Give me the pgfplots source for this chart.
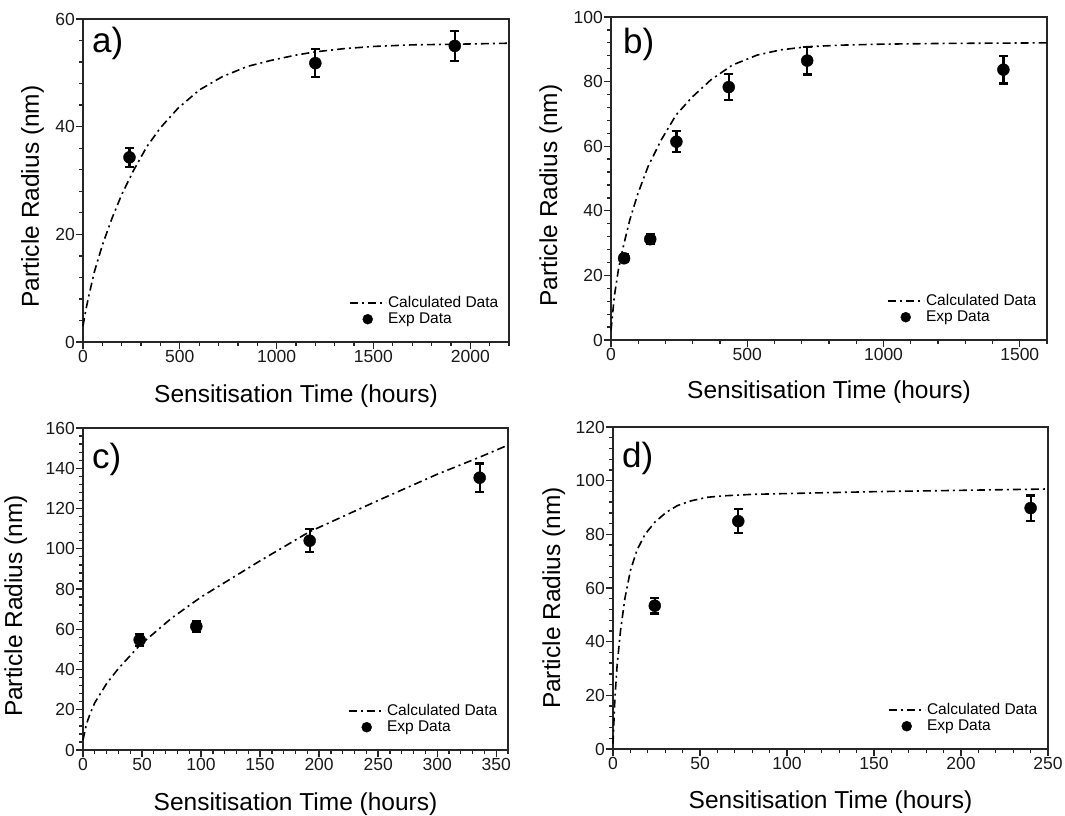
\documentclass[border=0pt]{standalone}
\usepackage{fontspec}
\setmainfont{Liberation Sans}
\usepackage{pgfplots}
\pgfplotsset{compat=1.18}

\pgfplotsset{
  myax/.style={
    scale only axis, anchor=south west,
    axis line style={line width=1.4pt, black!85},
    tick align=outside, tick pos=left,
    major tick length=7pt, minor tick length=4pt,
    every tick/.style={line width=1.3pt, black!85},
    tick label style={font=\fontsize{17.5}{20}\selectfont, inner sep=1pt, text=black!90},
    /pgf/number format/assume math mode=true,
    /pgf/number format/1000 sep={},
    clip=false,
    legend style={draw=none, fill=none, font=\fontsize{15.5}{18}\selectfont,
      anchor=south east, at={(rel axis cs:1,0)}, xshift=-9pt, yshift=15pt,
      row sep=1pt, inner sep=0pt, nodes={inner sep=1.5pt}},
    legend cell align=left,
  },
  calcd/.style={black, line width=1.6pt, dash pattern=on 8pt off 4pt on 2pt off 4pt, mark=none,
    legend image code/.code={\draw[##1] (0pt,0pt) -- (36pt,0pt);}},
  expd/.style={black, only marks, mark=*, mark size=6pt,
    legend image code/.code={\draw[##1, mark size=5pt] plot coordinates {(18pt,0pt)};},
    error bars/.cd, y dir=both, y explicit,
    error bar style={line width=2.2pt, black, solid},
    error mark options={rotate=90, mark size=4.5pt, line width=2.2pt, black, solid}},
}
\newcommand{\xlab}[1]{\node[anchor=base, font=\fontsize{24.5}{28}\selectfont] at ([yshift=#1]rel axis cs:0.5,0) {Sensitisation Time (hours)};}
\newcommand{\ylab}[2]{\node[rotate=90, anchor=base, font=\fontsize{24.5}{28}\selectfont] at ([xshift=#1,yshift=#2]rel axis cs:0,0.5) {Particle Radius (nm)};}
\newcommand{\plab}[3]{\node[anchor=north west, inner sep=0pt, font=\fontsize{35}{38}\selectfont] at ([xshift=#1,yshift=#2]rel axis cs:0,1) {#3};}

\begin{document}
\begin{tikzpicture}
\path[use as bounding box] (0pt,0pt) rectangle (1065pt,815pt);

% ---------------- a)
\begin{axis}[myax, at={(83pt,473pt)}, width=426pt, height=323pt,
  xmin=0, xmax=2200, ymin=0, ymax=60,
  xtick={0,500,1000,1500,2000}, ytick={0,20,40,60},
  minor xtick={0,100,...,2200}, minor ytick={0,4,...,60}]
\addplot[calcd] coordinates {(0,3.0)(15,6.0)(30,8.6)(60,13.2)(100,18.0)(150,23.0)(200,27.4)(260,31.8)(330,36.3)(400,39.8)(490,43.4)(600,46.8)(720,49.3)(850,51.2)(970,52.3)(1100,53.3)(1200,53.9)(1350,54.5)(1500,54.9)(1700,55.2)(1900,55.3)(2200,55.5)};
\addlegendentry{Calculated Data}
\addplot[expd] table[x=x,y=y,y error=e] {
x y e
240 34.3 1.8
1200 51.8 2.6
1920 55.0 2.8
};
\addlegendentry{Exp Data}
\xlab{-60pt}
\ylab{-44pt}{-16pt}
\plab{9pt}{-8pt}{a)}
\end{axis}

% ---------------- b)
\begin{axis}[myax, at={(611pt,475pt)}, width=436pt, height=323pt,
  xmin=0, xmax=1600, ymin=0, ymax=100,
  xtick={0,500,1000,1500}, ytick={0,20,...,100},
  minor xtick={0,100,...,1600}, minor ytick={0,4,...,100}]
\addplot[calcd] coordinates {(0,3)(3,5.5)(12,13.4)(27,21.7)(45,28.9)(69,37.2)(99,45.4)(136,53.7)(184,61.9)(239,69.7)(299,75.3)(366,80.5)(445,85.1)(536,88.2)(621,89.8)(720,90.8)(850,91.3)(1000,91.6)(1200,91.8)(1400,91.9)(1600,92.0)};
\addlegendentry{Calculated Data}
\addplot[expd] table[x=x,y=y,y error=e] {
x y e
48 25.3 1.2
144 31.2 1.5
240 61.4 3.2
432 78.3 4.0
720 86.5 4.3
1440 83.7 4.3
};
\addlegendentry{Exp Data}
\xlab{-58pt}
\ylab{-54pt}{-17pt}
\plab{12pt}{-11pt}{b)}
\end{axis}

% ---------------- c)
\begin{axis}[myax, at={(83pt,65pt)}, width=425pt, height=322pt,
  xmin=0, xmax=360, ymin=0, ymax=160,
  xtick={0,50,...,350}, ytick={0,20,...,160},
  minor xtick={0,10,...,360}, minor ytick={0,4,...,160}]
\addplot[calcd] coordinates {(0,5)(3,13)(6,18)(10,23.5)(20,33)(30,40.5)(48,52)(75,65.5)(100,76)(150,94)(192,108.5)(250,124)(300,137)(336,145.5)(360,151.5)};
\addlegendentry{Calculated Data}
\addplot[expd] table[x=x,y=y,y error=e] {
x y e
48 54.7 2.9
96 61.4 2.9
192 104.0 5.8
336 135.3 7.1
};
\addlegendentry{Exp Data}
\xlab{-60pt}
\ylab{-61pt}{-17pt}
\plab{9pt}{-15pt}{c)}
\end{axis}

% ---------------- d)
\begin{axis}[myax, at={(613pt,66pt)}, width=435pt, height=322pt,
  xmin=0, xmax=250, ymin=0, ymax=120,
  xtick={0,50,...,250}, ytick={0,20,...,120},
  minor xtick={0,10,...,250}, minor ytick={0,4,...,120}]
\addplot[calcd] coordinates {(0,2)(1.1,19)(2.4,31.5)(4.3,44)(6.8,56)(10,66.5)(13.7,74)(18.4,80)(24,84.5)(30.6,88.2)(37,90.7)(45,92.5)(54,93.8)(65,94.4)(80,94.9)(100,95.2)(150,95.9)(200,96.4)(250,96.9)};
\addlegendentry{Calculated Data}
\addplot[expd] table[x=x,y=y,y error=e] {
x y e
24 53.4 2.9
72 84.9 4.4
240 89.8 4.7
};
\addlegendentry{Exp Data}
\xlab{-59pt}
\ylab{-53pt}{-10pt}
\plab{9pt}{-15pt}{d)}
\end{axis}
\end{tikzpicture}
\end{document}
